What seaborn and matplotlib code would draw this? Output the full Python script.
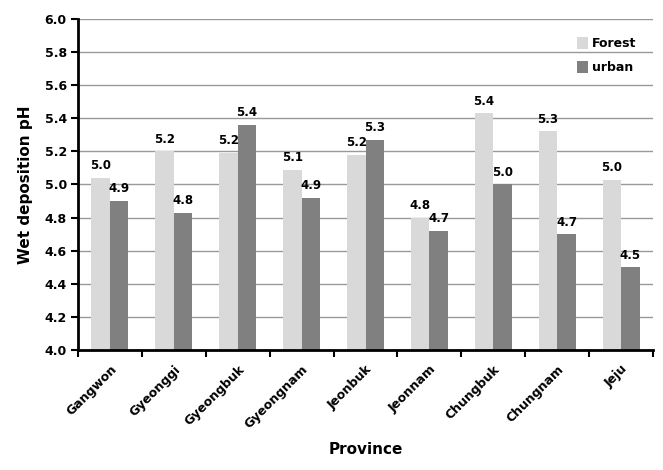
import matplotlib
matplotlib.use("Agg")
import matplotlib.pyplot as plt
import seaborn as sns
import pandas as pd
import numpy as np

provinces = ["Gangwon", "Gyeonggi", "Gyeongbuk", "Gyeongnam", "Jeonbuk",
             "Jeonnam", "Chungbuk", "Chungnam", "Jeju"]
forest = [5.04, 5.20, 5.19, 5.09, 5.18, 4.80, 5.43, 5.32, 5.03]
urban = [4.90, 4.83, 5.36, 4.92, 5.27, 4.72, 5.00, 4.70, 4.50]
series_names = ["Forest", "urban"]
colors = ["#d9d9d9", "#808080"]
yticks = [4.0, 4.2, 4.4, 4.6, 4.8, 5.0, 5.2, 5.4, 5.6, 5.8, 6.0]

df = pd.DataFrame({
    "Province": provinces * 2,
    "pH": forest + urban,
    "Type": [series_names[0]] * len(provinces) + [series_names[1]] * len(provinces),
})

sns.set_theme(style="white")
plt.rcParams['font.family'] = ['DejaVu Sans']
plt.rcParams['font.weight'] = 'bold'
plt.rcParams['text.color'] = 'black'
plt.rcParams['axes.labelcolor'] = 'black'
plt.rcParams['xtick.color'] = 'black'
plt.rcParams['ytick.color'] = 'black'

fig = plt.figure(figsize=(6.63, 4.70), dpi=100)
ax = fig.add_axes([0.1176, 0.255, 0.985 - 0.1176, 0.96 - 0.255])

sns.barplot(data=df, x="Province", y="pH", hue="Type", palette=colors,
            width=0.58, ax=ax, saturation=1, legend=True,
            edgecolor="none", linewidth=0)

ax.set_ylim(4.0, 6.0)
ax.set_yticks(yticks)
ax.set_yticklabels([f"{v:.1f}" for v in yticks], fontsize=9, fontweight="bold")
ax.yaxis.grid(True, color="#999999", linewidth=1)
ax.set_axisbelow(True)
ax.set_xlim(-0.5, len(provinces) - 0.5)

for c in ax.containers:
    ax.bar_label(c, labels=[f"{v:.1f}" for v in c.datavalues], padding=4,
                 fontsize=8.5, fontweight="bold", color="black")

for s in ["top", "right"]:
    ax.spines[s].set_visible(False)
for s in ["left", "bottom"]:
    ax.spines[s].set_color("black")
    ax.spines[s].set_linewidth(2)
    ax.spines[s].set_zorder(5)

ax.tick_params(axis="y", which="major", direction="out", length=5, width=1.5,
               color="black", left=True, pad=3)
ax.set_xticks(range(len(provinces)))
ax.set_xticklabels(provinces, rotation=45, ha="right", rotation_mode="anchor",
                   fontsize=9, fontweight="bold")
ax.tick_params(axis="x", which="major", length=0, pad=9)
ax.set_xticks(np.arange(-0.5, len(provinces), 1.0), minor=True)
ax.tick_params(axis="x", which="minor", direction="out", length=5, width=1.5,
               color="black", bottom=True)

ax.set_xlabel("Province", fontsize=11, fontweight="bold", labelpad=8)
ax.set_ylabel("Wet deposition pH", fontsize=11, fontweight="bold", labelpad=8)

leg = ax.legend(loc="upper right", bbox_to_anchor=(0.99, 0.98), frameon=False,
                fontsize=9, handlelength=0.9, handleheight=1.1,
                handletextpad=0.3, labelspacing=0.9, title=None)
for t in leg.get_texts():
    t.set_fontweight("bold")

fig.savefig("out.png", dpi=100)
